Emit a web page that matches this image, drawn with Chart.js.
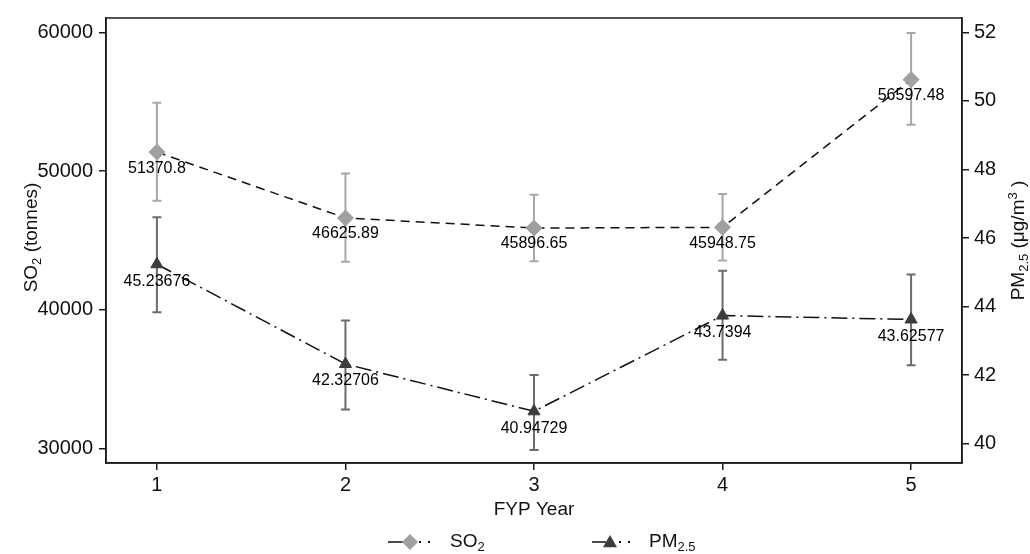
<!DOCTYPE html>
<html>
<head>
<meta charset="utf-8">
<script src="https://cdn.jsdelivr.net/npm/chart.js@4/dist/chart.umd.min.js"></script>
<style>
html,body{margin:0;padding:0;background:#fff;}
#wrap{width:1030px;height:554px;position:relative;}
</style>
</head>
<body>
<div id="wrap"><canvas id="c"></canvas></div>
<script>
// ---- data ----
const categories = [1, 2, 3, 4, 5];
const so2Values = [51370.8, 46625.89, 45896.65, 45948.75, 56597.48];
const so2Upper = [54930, 49820, 48300, 48350, 59950];
const so2Lower = [47870, 43460, 43500, 43550, 53340];
const pmValues = [45.23676, 42.32706, 40.94729, 43.7394, 43.62577];
const pmUpper = [46.61, 43.60, 42.01, 45.05, 44.94];
const pmLower = [43.84, 41.00, 39.82, 42.45, 42.29];
const so2Labels = ["51370.8", "46625.89", "45896.65", "45948.75", "56597.48"];
const pmLabels = ["45.23676", "42.32706", "40.94729", "43.7394", "43.62577"];
const xTicks = [1, 2, 3, 4, 5];
const leftTicks = [30000, 40000, 50000, 60000];
const rightTicks = [40, 42, 44, 46, 48, 50, 52];

const FONT = "'Liberation Sans', Arial, Helvetica, sans-serif";
const AXIS = '#1a1a1a';
const TXT = '#111';

function pts(vals) { return categories.map((c, i) => ({x: c, y: vals[i]})); }

const errorBars = {
  id: 'errorBars',
  beforeDatasetsDraw(chart) {
    const ctx = chart.ctx, xs = chart.scales.x;
    const sets = [
      {sc: chart.scales.y, up: so2Upper, lo: so2Lower, color: '#a8a8a8'},
      {sc: chart.scales.y1, up: pmUpper, lo: pmLower, color: '#6c6c6c'}
    ];
    ctx.save();
    sets.forEach(s => {
      ctx.strokeStyle = s.color; ctx.lineWidth = 2; ctx.setLineDash([]);
      categories.forEach((c, i) => {
        const px = xs.getPixelForValue(c);
        const yu = s.sc.getPixelForValue(s.up[i]);
        const yl = s.sc.getPixelForValue(s.lo[i]);
        ctx.beginPath();
        ctx.moveTo(px, yu); ctx.lineTo(px, yl);
        ctx.moveTo(px - 4.5, yu); ctx.lineTo(px + 4.5, yu);
        ctx.moveTo(px - 4.5, yl); ctx.lineTo(px + 4.5, yl);
        ctx.stroke();
      });
    });
    ctx.restore();
  },
  afterDatasetsDraw(chart) {
    const ctx = chart.ctx, xs = chart.scales.x;
    ctx.save();
    ctx.font = '16px ' + FONT; ctx.fillStyle = '#000';
    ctx.textAlign = 'center'; ctx.textBaseline = 'middle';
    categories.forEach((c, i) => {
      const px = xs.getPixelForValue(c);
      ctx.fillText(so2Labels[i], px, chart.scales.y.getPixelForValue(so2Values[i]) + 16);
      ctx.fillText(pmLabels[i], px, chart.scales.y1.getPixelForValue(pmValues[i]) + 17);
    });
    ctx.restore();
  }
};

// text made of segments: [text, size, dy]
function segWidth(ctx, segs) {
  let w = 0;
  segs.forEach(s => { ctx.font = s[1] + 'px ' + FONT; w += ctx.measureText(s[0]).width; });
  return w;
}
function drawSegs(ctx, segs, x, y) {
  segs.forEach(s => {
    ctx.font = s[1] + 'px ' + FONT;
    ctx.fillText(s[0], x, y + s[2]);
    x += ctx.measureText(s[0]).width;
  });
}

const decor = {
  id: 'decor',
  afterDraw(chart) {
    const ctx = chart.ctx, a = chart.chartArea;
    ctx.save();
    ctx.strokeStyle = AXIS; ctx.lineWidth = 1.5; ctx.setLineDash([]);
    ctx.strokeRect(a.left, a.top, a.right - a.left, a.bottom - a.top);
    ctx.fillStyle = TXT; ctx.textBaseline = 'middle'; ctx.textAlign = 'left';
    const xt = [['FYP Year', 19, 0]];
    drawSegs(ctx, xt, (a.left + a.right) / 2 - segWidth(ctx, xt) / 2, 510);
    const cy = (a.top + a.bottom) / 2;
    const lt = [['SO', 19, 0], ['2', 13, 5], [' (tonnes)', 19, 0]];
    ctx.save(); ctx.translate(32, cy - 3); ctx.rotate(-Math.PI / 2);
    drawSegs(ctx, lt, -segWidth(ctx, lt) / 2, 0); ctx.restore();
    const rt = [['PM', 19, 0], ['2.5', 13, 5], [' (\u03bcg/m', 19, 0], ['3', 13, -6], [' )', 19, 0]];
    ctx.save(); ctx.translate(1019, cy); ctx.rotate(-Math.PI / 2);
    drawSegs(ctx, rt, -segWidth(ctx, rt) / 2, 0); ctx.restore();
    // legend
    const ly = 542;
    const items = [
      {x0: 388, mx: 410, tx: 450, sub: '2', name: 'SO', style: 'rectRot', r: 8, col: '#a0a0a0'},
      {x0: 592, mx: 610, tx: 649, sub: '2.5', name: 'PM', style: 'triangle', r: 7, col: '#3c3c3c'}
    ];
    items.forEach(it => {
      ctx.strokeStyle = '#111'; ctx.lineWidth = 1.5;
      ctx.beginPath(); ctx.moveTo(it.x0, ly); ctx.lineTo(it.mx - 4, ly); ctx.stroke();
      ctx.fillStyle = '#111';
      ctx.fillRect(it.mx + 9, ly - 1, 2, 2);
      ctx.fillRect(it.mx + 18, ly - 1, 2, 2);
      ctx.fillStyle = it.col;
      ctx.beginPath();
      if (it.style === 'rectRot') {
        ctx.moveTo(it.mx, ly - it.r); ctx.lineTo(it.mx + it.r, ly); ctx.lineTo(it.mx, ly + it.r); ctx.lineTo(it.mx - it.r, ly);
      } else {
        ctx.moveTo(it.mx, ly - it.r); ctx.lineTo(it.mx + it.r, ly + it.r * 0.75); ctx.lineTo(it.mx - it.r, ly + it.r * 0.75);
      }
      ctx.closePath(); ctx.fill();
      ctx.fillStyle = TXT;
      drawSegs(ctx, [[it.name, 19, 0], [it.sub, 13, 5]], it.tx, ly);
    });
    ctx.restore();
  }
};

new Chart(document.getElementById('c'), {
  type: 'line',
  data: {
    datasets: [
      {
        label: 'SO2', data: pts(so2Values), yAxisID: 'y',
        borderColor: '#111', borderWidth: 1.5, borderDash: [9, 6], tension: 0,
        pointStyle: 'rectRot', pointRadius: 8, pointBackgroundColor: '#a0a0a0',
        pointBorderColor: '#a0a0a0', pointBorderWidth: 1, fill: false
      },
      {
        label: 'PM2.5', data: pts(pmValues), yAxisID: 'y1',
        borderColor: '#111', borderWidth: 1.5, borderDash: [16, 5, 2, 5], tension: 0,
        pointStyle: 'triangle', pointRadius: 7, pointBackgroundColor: '#3c3c3c',
        pointBorderColor: '#3c3c3c', pointBorderWidth: 1, fill: false
      }
    ]
  },
  options: {
    responsive: true, maintainAspectRatio: false, animation: false,
    devicePixelRatio: 1,
    layout: {padding: {top: 14, left: 0, right: 0, bottom: 0}},
    plugins: {legend: {display: false}, tooltip: {enabled: false}},
    scales: {
      x: {
        type: 'linear', min: 0.73, max: 5.27,
        afterBuildTicks: s => { s.ticks = xTicks.map(v => ({value: v})); },
        afterFit: s => { s.height = 91; },
        ticks: {font: {family: FONT, size: 20}, color: TXT, padding: 3, maxRotation: 0},
        grid: {drawOnChartArea: false, drawTicks: true, tickLength: 7, color: AXIS, lineWidth: 1.5},
        border: {display: true, color: AXIS, width: 1.5}
      },
      y: {
        type: 'linear', position: 'left', min: 28964, max: 61036,
        afterBuildTicks: s => { s.ticks = leftTicks.map(v => ({value: v})); },
        afterFit: s => { s.width = 106; },
        ticks: {font: {family: FONT, size: 20}, color: TXT, padding: 6, callback: v => String(v)},
        grid: {drawOnChartArea: false, drawTicks: true, tickLength: 7, color: AXIS, lineWidth: 1.5},
        border: {display: true, color: AXIS, width: 1.5}
      },
      y1: {
        type: 'linear', position: 'right', min: 39.44, max: 52.42,
        afterBuildTicks: s => { s.ticks = rightTicks.map(v => ({value: v})); },
        afterFit: s => { s.width = 68; },
        ticks: {font: {family: FONT, size: 20}, color: TXT, padding: 5, callback: v => String(v)},
        grid: {drawOnChartArea: false, drawTicks: true, tickLength: 7, color: AXIS, lineWidth: 1.5},
        border: {display: true, color: AXIS, width: 1.5}
      }
    }
  },
  plugins: [errorBars, decor]
});
</script>
</body>
</html>
